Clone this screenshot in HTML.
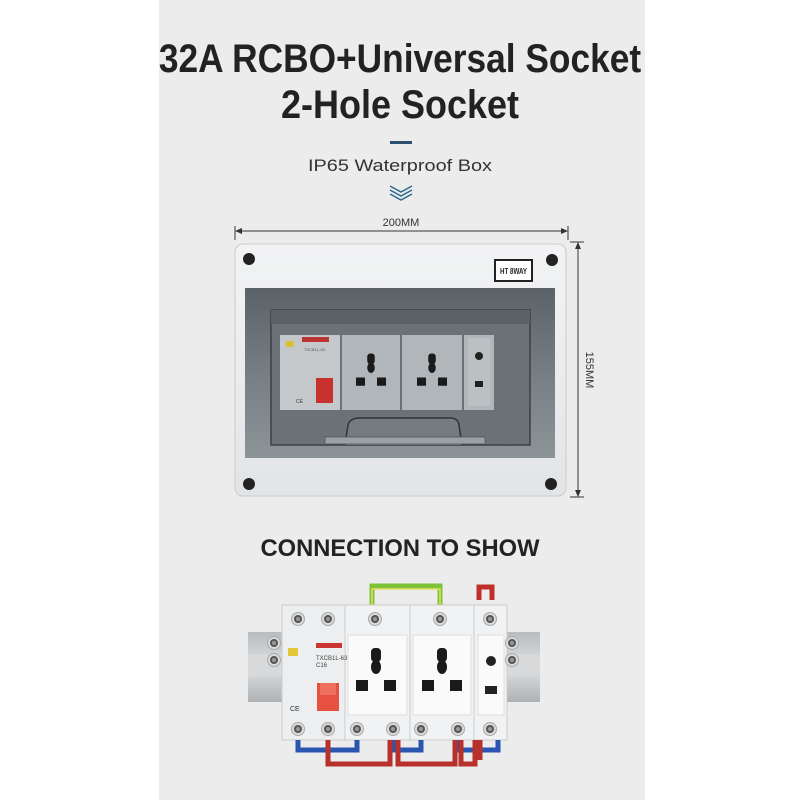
<!DOCTYPE html>
<html><head><meta charset="utf-8"><style>
html,body{margin:0;padding:0;background:#fff}
svg{display:block}
</style></head><body>
<svg width="800" height="800" viewBox="0 0 800 800" xmlns="http://www.w3.org/2000/svg">
<defs>
<linearGradient id="win" x1="0" y1="0" x2="0" y2="1"><stop offset="0" stop-color="#5a6268"/><stop offset="0.5" stop-color="#767e83"/><stop offset="1" stop-color="#8d9498"/></linearGradient>
<linearGradient id="frame" x1="0" y1="0" x2="0" y2="1"><stop offset="0" stop-color="#f2f3f4"/><stop offset="1" stop-color="#e2e4e6"/></linearGradient>
<linearGradient id="rail" x1="0" y1="0" x2="0" y2="1"><stop offset="0" stop-color="#b8bcbf"/><stop offset="0.5" stop-color="#dfe1e3"/><stop offset="1" stop-color="#aeb2b5"/></linearGradient>
<g id="uni">
 <rect x="-5" y="-22" width="10" height="14" rx="4" fill="#1a1a1a"/>
 <ellipse cx="0" cy="-3" rx="5" ry="7" fill="#1a1a1a"/>
 <rect x="-20" y="10" width="12" height="11" fill="#1a1a1a"/>
 <rect x="8" y="10" width="12" height="11" fill="#1a1a1a"/>
</g>
<g id="screw"><circle r="6.5" fill="#d8dadb" stroke="#aaa" stroke-width="1"/><circle r="4" fill="#555"/><circle r="2" fill="#999"/></g>
</defs>
<rect x="0" y="0" width="800" height="800" fill="#fff"/>
<rect x="159" y="0" width="486" height="800" fill="#ececec"/>

<g font-family="Liberation Sans, sans-serif" fill="#222" text-anchor="middle">
<text x="400" y="72" font-size="40" font-weight="bold" transform="translate(400 0) scale(0.84 1) translate(-400 0)" textLength="574" lengthAdjust="spacingAndGlyphs">32A RCBO+Universal Socket</text>
<text x="400" y="118" font-size="40" font-weight="bold" textLength="238" lengthAdjust="spacingAndGlyphs">2-Hole Socket</text>
<text x="400" y="171" font-size="17" fill="#333" textLength="184" lengthAdjust="spacingAndGlyphs">IP65 Waterproof Box</text>
<text x="401" y="226" font-size="11" fill="#333">200MM</text>
<text x="400" y="556" font-size="24" font-weight="bold" textLength="279" lengthAdjust="spacingAndGlyphs">CONNECTION TO SHOW</text>
<text x="0" y="0" font-size="11" fill="#333" transform="translate(586 370) rotate(90)">155MM</text>
</g>
<rect x="390" y="141" width="22" height="3" fill="#2c4f6e"/>
<polyline points="390,186 401,192 412,186" fill="none" stroke="#2c6a8e" stroke-width="1.5"/>
<polyline points="390,190 401,196 412,190" fill="none" stroke="#2c6a8e" stroke-width="1.5"/>
<polyline points="390,194 401,200 412,194" fill="none" stroke="#2c6a8e" stroke-width="1.5"/>

<line x1="236" y1="231" x2="567" y2="231" stroke="#333" stroke-width="1"/>
<polygon points="235,231 242,228 242,234" fill="#333"/><polygon points="568,231 561,228 561,234" fill="#333"/>
<line x1="235" y1="226" x2="235" y2="240" stroke="#333"/><line x1="568" y1="226" x2="568" y2="240" stroke="#333"/>
<line x1="578" y1="243" x2="578" y2="496" stroke="#333"/>
<polygon points="578,242 575,249 581,249" fill="#333"/><polygon points="578,497 575,490 581,490" fill="#333"/>
<line x1="570" y1="242" x2="584" y2="242" stroke="#333"/><line x1="570" y1="497" x2="584" y2="497" stroke="#333"/>

<rect x="235" y="244" width="331" height="252" rx="8" fill="url(#frame)" stroke="#c9cbcd"/>
<circle cx="249" cy="259" r="6" fill="#222"/><circle cx="552" cy="260" r="6" fill="#222"/>
<circle cx="249" cy="484" r="6" fill="#222"/><circle cx="551" cy="484" r="6" fill="#222"/>
<rect x="495" y="260" width="37" height="21" fill="#fff" stroke="#222" stroke-width="2"/>
<text x="513.5" y="274" font-family="Liberation Sans, sans-serif" font-size="8" font-weight="bold" text-anchor="middle" fill="#222" textLength="27" lengthAdjust="spacingAndGlyphs">HT 8WAY</text>
<rect x="245" y="288" width="310" height="170" fill="url(#win)"/>
<rect x="271" y="310" width="259" height="135" fill="#6a7277" stroke="#3a4045" stroke-width="1.5"/>
<rect x="271" y="310" width="259" height="14" fill="#596166"/>
<rect x="280" y="335" width="60" height="75" fill="#c4c8cb"/>
<rect x="302" y="337" width="27" height="5" fill="#b33"/>
<rect x="286" y="341" width="8" height="6" fill="#d9c23a"/>
<rect x="316" y="378" width="17" height="25" fill="#c93030"/>
<text x="304" y="351" font-size="4" font-family="Liberation Sans, sans-serif" fill="#555">TXCB1L-63</text>
<text x="296" y="403" font-size="5" font-family="Liberation Sans, sans-serif" fill="#333">CE</text>
<rect x="342" y="335" width="58" height="75" fill="#b0b6ba"/>
<rect x="402" y="335" width="60" height="75" fill="#b0b6ba"/>
<rect x="464" y="335" width="30" height="75" fill="#b0b6ba"/>
<rect x="468" y="338" width="22" height="68" fill="#bbc0c3"/>
<use href="#uni" transform="translate(371 370) scale(0.75)"/>
<use href="#uni" transform="translate(432 370) scale(0.75)"/>
<circle cx="479" cy="356" r="4" fill="#222"/><rect x="475" y="381" width="8" height="6" fill="#222"/>
<path d="M345 445 L348 425 Q350 418 360 418 L450 418 Q458 418 459 425 L462 445" fill="#757c81" stroke="#333" stroke-width="1.5"/>
<rect x="325" y="437" width="160" height="7" fill="#9aa0a4" stroke="#555" stroke-width="0.8"/>

<rect x="248" y="632" width="292" height="70" fill="url(#rail)"/>
<rect x="248" y="654" width="292" height="22" fill="#d7d9db"/>
<path d="M372 605 V586 H440 V605" fill="none" stroke="#7cc23a" stroke-width="5"/>
<path d="M372 605 V589 H440 V605" fill="none" stroke="#e8e060" stroke-width="1.5"/>
<path d="M479 600 V587 H492 V600" fill="none" stroke="#c0302a" stroke-width="5"/>
<rect x="282" y="605" width="63" height="135" fill="#eceeef" stroke="#ccc"/>
<rect x="345" y="605" width="65" height="135" fill="#f1f2f3" stroke="#ccc"/>
<rect x="410" y="605" width="64" height="135" fill="#f1f2f3" stroke="#ccc"/>
<rect x="474" y="605" width="33" height="135" fill="#f1f2f3" stroke="#ccc"/>
<rect x="348" y="635" width="59" height="80" fill="#fafafa" stroke="#ddd"/>
<rect x="413" y="635" width="58" height="80" fill="#fafafa" stroke="#ddd"/>
<rect x="478" y="635" width="26" height="80" fill="#fafafa" stroke="#ddd"/>
<use href="#screw" transform="translate(298 619)"/><use href="#screw" transform="translate(328 619)"/>
<use href="#screw" transform="translate(375 619)"/><use href="#screw" transform="translate(440 619)"/>
<use href="#screw" transform="translate(490 619)"/>
<use href="#screw" transform="translate(298 729)"/><use href="#screw" transform="translate(328 729)"/>
<use href="#screw" transform="translate(357 729)"/><use href="#screw" transform="translate(393 729)"/>
<use href="#screw" transform="translate(421 729)"/><use href="#screw" transform="translate(458 729)"/>
<use href="#screw" transform="translate(490 729)"/>
<use href="#screw" transform="translate(274 643)"/><use href="#screw" transform="translate(274 660)"/>
<use href="#screw" transform="translate(512 643)"/><use href="#screw" transform="translate(512 660)"/>
<rect x="316" y="643" width="26" height="5" fill="#c33"/>
<rect x="288" y="648" width="10" height="8" fill="#e3c93a"/>
<text x="316" y="660" font-size="6" font-family="Liberation Sans, sans-serif" fill="#444">TXCB1L-63</text>
<text x="316" y="667" font-size="6" font-family="Liberation Sans, sans-serif" fill="#444">C16</text>
<rect x="317" y="683" width="22" height="28" fill="#e8503f"/>
<rect x="320" y="683" width="16" height="12" fill="#f07060"/>
<text x="290" y="711" font-size="7" font-family="Liberation Sans, sans-serif" fill="#333">CE</text>
<use href="#uni" transform="translate(376 670)"/>
<use href="#uni" transform="translate(442 670)"/>
<circle cx="491" cy="661" r="5" fill="#222"/><rect x="485" y="686" width="12" height="8" fill="#222"/>
<path d="M298 740 V750 H357 V740 M393 740 V750 H421 V740 M458 740 V750 H498 V740" fill="none" stroke="#2a55b0" stroke-width="5"/>
<path d="M328 740 V764 H390 V740 M398 740 V764 H455 V740 M461 740 V764 H475 V740 M480 740 V760" fill="none" stroke="#b8302a" stroke-width="5"/>
</svg>
</body></html>
